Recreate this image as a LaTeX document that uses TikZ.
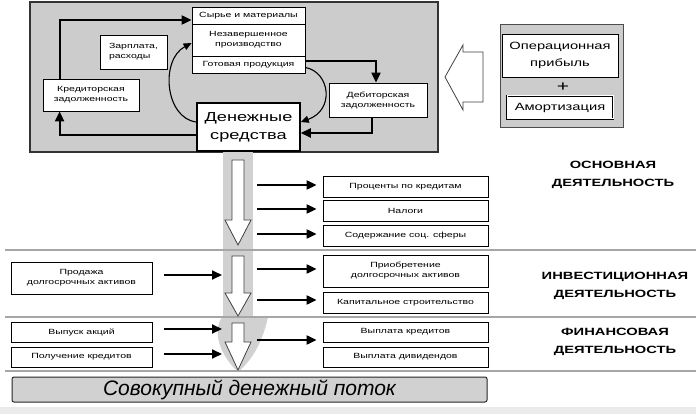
\documentclass[tikz,border=0pt]{standalone}
\usepackage{fontspec}
\setmainfont{Liberation Sans}[FakeStretch=1.4]
\newfontfamily\plainsans{Liberation Sans}
\usetikzlibrary{arrows.meta,calc}
\begin{document}
\begin{tikzpicture}[x=1pt,y=-1pt,
  box/.style={draw=black, line width=0.8pt, fill=white, inner sep=0pt, align=center, font=\fontsize{7.5}{10}\selectfont},
  arr/.style={line width=2pt, -{Triangle[length=10pt,width=9pt]}},
  carr/.style={line width=1.1pt, -{Triangle[length=8pt,width=7pt]}},
  hollow/.style={draw=black!75, line width=0.8pt, fill=white},
  sep/.style={draw=gray!70, line width=1.2pt},
  lbl/.style={font=\fontsize{10.5}{18}\selectfont\bfseries, align=center},
  graypanel/.style={draw=black!80, line width=1.2pt, fill=black!20, inner sep=0pt},
]
\useasboundingbox (0,0) rectangle (696,414);
\fill[white] (0,0) rectangle (696,414);
\fill[black!8] (0,407) rectangle (696,414);

% top panel
\node[graypanel, minimum width=408pt, minimum height=150pt] (panel) at (234,77) {};
\node[box, minimum width=113pt, minimum height=17pt] (raw) at (248.5,15.5) {Сырье и материалы};
\node[box, minimum width=113pt, minimum height=32pt] (wip) at (248.5,40) {Незавершенное\\производство};
\node[box, minimum width=113pt, minimum height=17pt] (fin) at (248.5,64.5) {Готовая продукция};
\node[box, minimum width=67pt, minimum height=34pt, align=left] (zp) at (133.5,52) {Зарплата,\\расходы};
\node[box, minimum width=96pt, minimum height=32pt] (kz) at (91,95) {Кредиторская\\задолженность};
\node[box, minimum width=98pt, minimum height=34pt] (dz) at (378,100) {Дебиторская\\задолженность};
\node[box, line width=1.5pt, minimum width=103pt, minimum height=48pt, font=\fontsize{13}{18}\selectfont] (ds) at (248.5,127) {Денежные\\средства};

\draw[arr] ($(ds.west)+(0,8)$) -| ($(kz.south west)+(17,0)$);
\draw[arr] ($(kz.north west)+(17,0)$) |- ($(raw.west)+(0,4.5)$);
\draw[arr] ($(fin.east)+(0,-3)$) -| ($(dz.north)+(-2,0)$);
\draw[arr] ($(dz.south)+(-6,0)$) |- ($(ds.east)+(0,6)$);
\draw[carr] ($(ds.west)+(0,-5)$) .. controls (165,118) and (160,60) .. ($(wip.west)+(0,3)$);
\draw[carr] ($(fin.east)+(0,3)$) .. controls (330,72) and (335,110) .. ($(ds.east)+(0,-5)$);

% right block
\draw[hollow] (445,77) -- (463,45) -- (463,52) -- (483,52) -- (483,102) -- (463,102) -- (463,110) -- cycle;
\node[graypanel, line width=1pt, draw=black!70, minimum width=123pt, minimum height=103pt] (opbox) at (561.5,76.5) {};
\node[box, minimum width=116pt, minimum height=43pt, font=\fontsize{10.5}{17}\selectfont] (op) at (560,55.5) {Операционная\\прибыль};
\node[font=\fontsize{15}{15}\selectfont, inner sep=0pt] (plus) at (563,87) {+};
\node[box, double, double distance=1pt, minimum width=106pt, minimum height=23pt, font=\fontsize{10.5}{12}\selectfont] (am) at (560,107.5) {Амортизация};

% gray band
\fill[black!18] (223,152) rectangle (253,317);
\fill[black!18] (222,317) -- (268,317) .. controls (262,345) and (250,362) .. (238,372) .. controls (220,355) and (212,332) .. (222,317) -- cycle;

% separators
\draw[sep] (5,250) -- (696,250);
\draw[sep] (5,317) -- (696,317);
\draw[sep] (5,371) -- (696,371);

% hollow down arrows
\draw[hollow] (232,160) -- (244,160) -- (244,220) -- (251,220) -- (238,245) -- (225,220) -- (232,220) -- cycle;
\draw[hollow] (232,256) -- (244,256) -- (244,293) -- (251,293) -- (238,316) -- (225,293) -- (232,293) -- cycle;
\draw[hollow] (232,323) -- (244,323) -- (244,342) -- (251,342) -- (238,370) -- (225,342) -- (232,342) -- cycle;

% operating section
\node[box, minimum width=165pt, minimum height=21pt] (pk) at (405.5,186.5) {Проценты по кредитам};
\node[box, minimum width=165pt, minimum height=21pt] (nal) at (405.5,210.5) {Налоги};
\node[box, minimum width=165pt, minimum height=21pt] (soc) at (405.5,235.5) {Содержание соц. сферы};
\coordinate (o1) at (257,185);
\coordinate (o2) at (257,209);
\coordinate (o3) at (257,234);
\draw[arr, shorten >=6pt] (o1) -- (pk.west |- o1);
\draw[arr, shorten >=6pt] (o2) -- (nal.west |- o2);
\draw[arr, shorten >=6pt] (o3) -- (soc.west |- o3);
\node[lbl] (l1) at (613,175) {ОСНОВНАЯ\\ДЕЯТЕЛЬНОСТЬ};

% investing section
\node[box, minimum width=141pt, minimum height=32pt] (prod) at (81.5,278) {Продажа\\долгосрочных активов};
\node[box, minimum width=165pt, minimum height=32pt] (pri) at (405.5,271) {Приобретение\\долгосрочных активов};
\node[box, minimum width=165pt, minimum height=21pt] (kap) at (405.5,302.5) {Капитальное строительство};
\coordinate (i1) at (222,275);
\coordinate (o4) at (257,269);
\coordinate (o5) at (257,300);
\draw[arr, shorten <=12pt] (prod.east |- i1) -- (i1);
\draw[arr, shorten >=6pt] (o4) -- (pri.west |- o4);
\draw[arr, shorten >=6pt] (o5) -- (kap.west |- o5);
\node[lbl] (l2) at (615,285.5) {ИНВЕСТИЦИОННАЯ\\ДЕЯТЕЛЬНОСТЬ};

% financing section
\node[box, minimum width=141pt, minimum height=20pt] (vyp) at (81.5,332) {Выпуск акций};
\node[box, minimum width=141pt, minimum height=20pt] (pol) at (81.5,357) {Получение кредитов};
\node[box, minimum width=165pt, minimum height=20pt] (vk) at (405.5,332) {Выплата кредитов};
\node[box, minimum width=165pt, minimum height=20pt] (vd) at (405.5,357) {Выплата дивидендов};
\coordinate (i2) at (222,329);
\coordinate (i3) at (222,354);
\coordinate (o6) at (257,340);
\draw[arr, shorten <=12pt] (vyp.east |- i2) -- (i2);
\draw[arr, shorten <=12pt] (pol.east |- i3) -- (i3);
\draw[arr, shorten >=6pt] (o6) -- (vk.south west |- o6);
\node[lbl] (l3) at (615,341.5) {ФИНАНСОВАЯ\\ДЕЯТЕЛЬНОСТЬ};

% total
\node[draw=black!85, line width=1pt, fill=black!18, rounded corners=2pt, minimum width=475pt, minimum height=25pt, inner sep=0pt, font=\plainsans\fontsize{21}{22}\selectfont\itshape] (tot) at (249.5,389.5) {Совокупный денежный поток};
\end{tikzpicture}
\end{document}
